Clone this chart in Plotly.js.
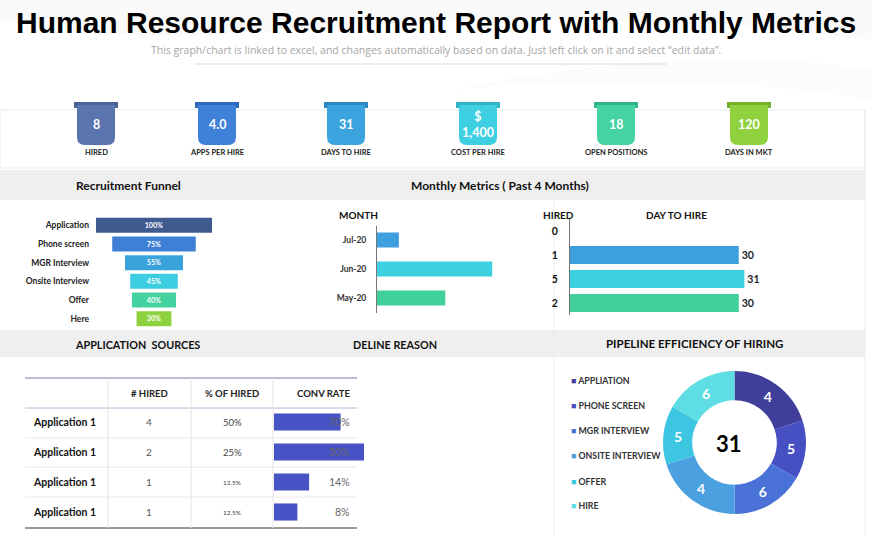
<!DOCTYPE html>
<html>
<head>
<meta charset="utf-8">
<script src="https://cdn.plot.ly/plotly-3.0.1.min.js"></script>
<style>html,body{margin:0;padding:0;background:#fff;}#chart{width:872px;height:539px;}</style>
</head>
<body>
<div id="chart"></div>
<script>
// ---------------- DATA ----------------
const kpiValues = ['8', '4.0', '31', '$<br>1,400', '18', '120'];
const kpiLabels = ['HIRED', 'APPS PER HIRE', 'DAYS TO HIRE', 'COST PER HIRE', 'OPEN POSITIONS', 'DAYS IN MKT'];

const funnelStages = ['Application', 'Phone screen', 'MGR Interview', 'Onsite Interview', 'Offer', 'Here'];
const funnelValues = [100, 72, 50, 41, 38, 30];
const funnelText = ['100%', '75%', '55%', '45%', '40%', '30%'];

const months = ['Jul-20', 'Jun-20', 'May-20'];
const monthVolume = [4.1, 21.6, 12.8];

const hiredLabels = ['0', '1', '5', '2'];
const dayToHire = [0, 30, 31, 30];

const sourceNames = ['Application 1', 'Application 1', 'Application 1', 'Application 1'];
const hiredCounts = ['4', '2', '1', '1'];
const pctHired = ['50%', '25%', '12.5%', '12.5%'];
const convRate = ['70%', '50%', '14%', '8%'];
const convBar = [0.74, 1.0, 0.39, 0.26];
const tableHeaders = ['# HIRED', '% OF HIRED', 'CONV RATE'];

const pipeStages = ['APPLIATION', 'PHONE SCREEN', 'MGR INTERVIEW', 'ONSITE INTERVIEW', 'OFFER', 'HIRE'];
const pipeValues = [6, 4, 5, 6, 4, 5];
const pipeLabels = ['4', '5', '6', '4', '5', '6'];
const pipeTotal = 31;

// ---------------- STYLE ----------------
const W = 872, H = 539;
const px = x => x / W;
const py = y => 1 - y / H;
const FONT = 'Lato, "Open Sans", sans-serif';
const kpiBody = ['#5a74ad', '#3f80d8', '#3ba3dd', '#3ecfe2', '#45d3a2', '#8fd13f'];
const kpiTab = ['#4a6298', '#2f69bd', '#2b88c0', '#2fb2c4', '#33b588', '#74b12c'];
const kpiX = [96, 217, 346, 478, 616, 749];
const funnelColors = ['#3f5a8f', '#3f7fd6', '#3ba3dc', '#3dcde0', '#44d2a0', '#8ed13f'];
const monthColors = ['#3d9ee0', '#3dd0e0', '#40d09a'];
const dthColors = ['#3d9ee0', '#3da0dc', '#3dd0e0', '#40d09a'];
const pipeColors = ['#40409c', '#4650c2', '#4a72d6', '#4ba1e0', '#3dc6e2', '#5fdde4'];

const shapes = [];
const annotations = [];
function rect(x0, y0, x1, y1, fill, line) {
  shapes.push({type: 'rect', xref: 'paper', yref: 'paper', x0: px(x0), x1: px(x1), y0: py(y1), y1: py(y0),
    fillcolor: fill, line: line || {width: 0}, layer: 'below'});
}
function seg(x0, y0, x1, y1, color, width) {
  shapes.push({type: 'line', xref: 'paper', yref: 'paper', x0: px(x0), x1: px(x1), y0: py(y0), y1: py(y1),
    line: {color: color, width: width || 1}, layer: 'below'});
}
function path(d, fill) {
  shapes.push({type: 'path', xref: 'paper', yref: 'paper', path: d, fillcolor: fill, line: {width: 0}, layer: 'below'});
}
function P(x, y) { return px(x) + ',' + py(y); }
function ann(x, y, text, size, color, weight, anchor, family) {
  annotations.push({xref: 'paper', yref: 'paper', x: px(x), y: py(y), text: text, showarrow: false,
    xanchor: anchor || 'center', yanchor: 'middle',
    font: {family: family || FONT, size: size, color: color, weight: weight || 'normal'}});
}

// background swooshes
path('M ' + P(0, 0) + ' L ' + P(872, 0) + ' L ' + P(872, 40) + ' Q ' + P(600, 5) + ' ' + P(300, 30) + ' Q ' + P(120, 45) + ' ' + P(0, 20) + ' Z', 'rgba(0,0,0,0.02)');
path('M ' + P(450, 90) + ' Q ' + P(700, 40) + ' ' + P(872, 70) + ' L ' + P(872, 100) + ' Q ' + P(700, 70) + ' ' + P(450, 90) + ' Z', 'rgba(0,0,0,0.012)');

// cards and bands
rect(0, 110, 865, 168, '#ffffff', {color: '#ececec', width: 1});
rect(0, 170, 865, 200, '#efefef');
rect(0, 200, 865, 330, '#ffffff');
rect(0, 330, 865, 357, '#efefef');
rect(0, 357, 865, 535, '#ffffff');
seg(865, 110, 865, 535, '#ececec', 1);
seg(554, 200, 554, 535, '#ececec', 1);
seg(195, 64, 667, 64, '#d9d9d9', 1);

// titles
ann(436, 23, 'Human Resource Recruitment Report with Monthly Metrics', 30, '#000', 'bold', 'center', '"Liberation Sans", Arial, sans-serif');
ann(436, 50, 'This graph/chart is linked to excel, and changes automatically based on data. Just left click on it and select \u201cedit data\u201d.', 10.5, '#a6a6a6', 'normal', 'center', '"Liberation Sans Narrow", "Open Sans", sans-serif');

// KPI ribbons
kpiX.forEach((c, i) => {
  const x0 = c - 19, x1 = c + 19, y0 = 105, y1 = 145, r = 8;
  path('M ' + P(c - 22, 102) + ' L ' + P(c + 22, 102) + ' L ' + P(c + 22, 108) + ' L ' + P(c - 22, 108) + ' Z', kpiTab[i]);
  path('M ' + P(x0, y0) + ' L ' + P(x1, y0) + ' L ' + P(x1, y1 - r) + ' Q ' + P(x1, y1) + ' ' + P(x1 - r, y1) +
       ' L ' + P(x0 + r, y1) + ' Q ' + P(x0, y1) + ' ' + P(x0, y1 - r) + ' Z', kpiBody[i]);
  ann(c, 124, kpiValues[i], 12.5, '#ffffff', 'bold');
  ann(c, 153, kpiLabels[i], 7.5, '#222', 'bold');
});

// section headers
ann(128, 185, 'Recruitment Funnel', 12, '#111', 'bold');
ann(500, 185, 'Monthly Metrics ( Past 4 Months)', 12, '#111', 'bold');
ann(137, 344, 'APPLICATION&nbsp; SOURCES', 10.8, '#111', 'bold');
ann(395, 344, 'DELINE REASON', 10.8, '#111', 'bold');
ann(694, 343, 'PIPELINE EFFICIENCY OF HIRING', 11.5, '#111', 'bold');
ann(358, 215, 'MONTH', 10, '#111', 'bold');
ann(558, 215, 'HIRED', 10, '#111', 'bold');
ann(676, 215, 'DAY TO HIRE', 10, '#111', 'bold');

// table lines
seg(25, 378, 357, 378, '#a4a4cc', 1.5);
seg(25, 408, 357, 408, '#b4b4d4', 1);
[438, 467, 497].forEach(y => seg(25, y, 357, y, '#e8e8e8', 1));
seg(25, 528, 357, 528, '#7a7a7a', 1.5);
[108, 191, 273].forEach(x => seg(x, 378, x, 528, '#e4e4e4', 1));
const colX = [149, 232, 323];
tableHeaders.forEach((h, i) => ann(colX[i], 393, h, 9.5, '#222', 'bold'));
const rowY = [422, 452, 482, 512];
rowY.forEach((y, i) => {
  ann(31, y, sourceNames[i], 10.5, '#111', 'bold', 'left');
  ann(149, y, hiredCounts[i], 10, '#555');
  ann(232, y, pctHired[i], pctHired[i].length > 3 ? 6.5 : 9.5, '#444');
  ann(352, y, convRate[i], 10.5, '#666', 'normal', 'right');
});

// pipeline legend
const legY = [380, 405, 430, 455, 481, 505];
pipeStages.forEach((s, i) => {
  ann(569, legY[i], '<span style="color:' + pipeColors[i] + '">\u25A0</span> ' + s, 8.8, '#333', 'bold', 'left');
});
ann(729, 443, String(pipeTotal), 22, '#000', 'bold');

// ---------------- TRACES ----------------
const traces = [];
traces.push({
  type: 'funnel', xaxis: 'x', yaxis: 'y',
  y: funnelStages, x: funnelValues, text: funnelText, textinfo: 'text',
  textposition: 'inside', insidetextanchor: 'middle',
  textfont: {family: FONT, size: 8, color: '#ffffff', weight: 'bold'},
  marker: {color: funnelColors, line: {width: 0}},
  connector: {visible: false}, hoverinfo: 'skip'
});
traces.push({
  type: 'bar', orientation: 'h', xaxis: 'x2', yaxis: 'y2',
  y: months, x: monthVolume, width: 0.52,
  marker: {color: monthColors, line: {width: 0}}, hoverinfo: 'skip'
});
traces.push({
  type: 'bar', orientation: 'h', xaxis: 'x3', yaxis: 'y3',
  y: hiredLabels, x: dayToHire, width: 0.75,
  text: dayToHire.map(v => v > 0 ? String(v) : ''), textposition: 'outside', cliponaxis: false,
  textfont: {family: FONT, size: 10.5, color: '#222', weight: 'bold'},
  marker: {color: dthColors, line: {width: 0}}, hoverinfo: 'skip'
});
traces.push({
  type: 'bar', orientation: 'h', xaxis: 'x4', yaxis: 'y4',
  y: [0, 1, 2, 3], x: convBar, width: 0.57,
  marker: {color: '#4752c4', line: {width: 0}}, hoverinfo: 'skip'
});
traces.push({
  type: 'pie', values: pipeValues, labels: pipeStages, text: pipeLabels, textinfo: 'text',
  sort: false, direction: 'clockwise', rotation: 0, hole: 0.59,
  domain: {x: [px(663), px(806)], y: [py(514), py(371)]},
  marker: {colors: pipeColors, line: {width: 0}},
  textposition: 'inside', insidetextorientation: 'horizontal',
  textfont: {family: FONT, size: 14, color: '#ffffff', weight: 'bold'},
  hoverinfo: 'skip', showlegend: false
});

const hidden = {visible: false, showgrid: false, zeroline: false, fixedrange: true};
const layout = {
  width: W, height: H, margin: {l: 0, r: 0, t: 0, b: 0},
  paper_bgcolor: '#ffffff', plot_bgcolor: 'rgba(0,0,0,0)', showlegend: false,
  font: {family: FONT},
  xaxis: Object.assign({domain: [px(96), px(212)], range: [-50, 50]}, hidden),
  yaxis: {domain: [py(328), py(216)], type: 'category', categoryorder: 'array', categoryarray: funnelStages,
    autorange: 'reversed', showgrid: false, zeroline: false, showline: false, ticks: '', ticklabelstandoff: 6,
    tickfont: {family: FONT, size: 8.5, color: '#222', weight: 'bold'}},
  xaxis2: Object.assign({domain: [px(377), px(537)], range: [0, 30], anchor: 'y2'}, hidden),
  yaxis2: {domain: [py(312.5), py(225.5)], anchor: 'x2', type: 'category', categoryorder: 'array',
    categoryarray: months.slice().reverse(), showgrid: false, zeroline: false, showline: true,
    linecolor: '#777', linewidth: 1, ticks: '', ticklabelstandoff: 8,
    tickfont: {family: FONT, size: 8.5, color: '#333', weight: 'bold'}},
  xaxis3: Object.assign({domain: [px(570), px(795)], range: [0, 40], anchor: 'y3'}, hidden),
  yaxis3: {domain: [py(315), py(219)], anchor: 'x3', type: 'category', categoryorder: 'array',
    categoryarray: hiredLabels.slice().reverse(), showgrid: false, zeroline: false, showline: true,
    linecolor: '#777', linewidth: 1, ticks: '', ticklabelstandoff: 9,
    tickfont: {family: FONT, size: 10.5, color: '#111', weight: 'bold'}},
  xaxis4: Object.assign({domain: [px(274), px(364)], range: [0, 1], anchor: 'y4'}, hidden),
  yaxis4: Object.assign({domain: [py(527), py(407)], range: [3.5, -0.5], anchor: 'x4'}, hidden),
  shapes: shapes, annotations: annotations
};

Plotly.newPlot('chart', traces, layout, {displayModeBar: false, staticPlot: true});
</script>
</body>
</html>
